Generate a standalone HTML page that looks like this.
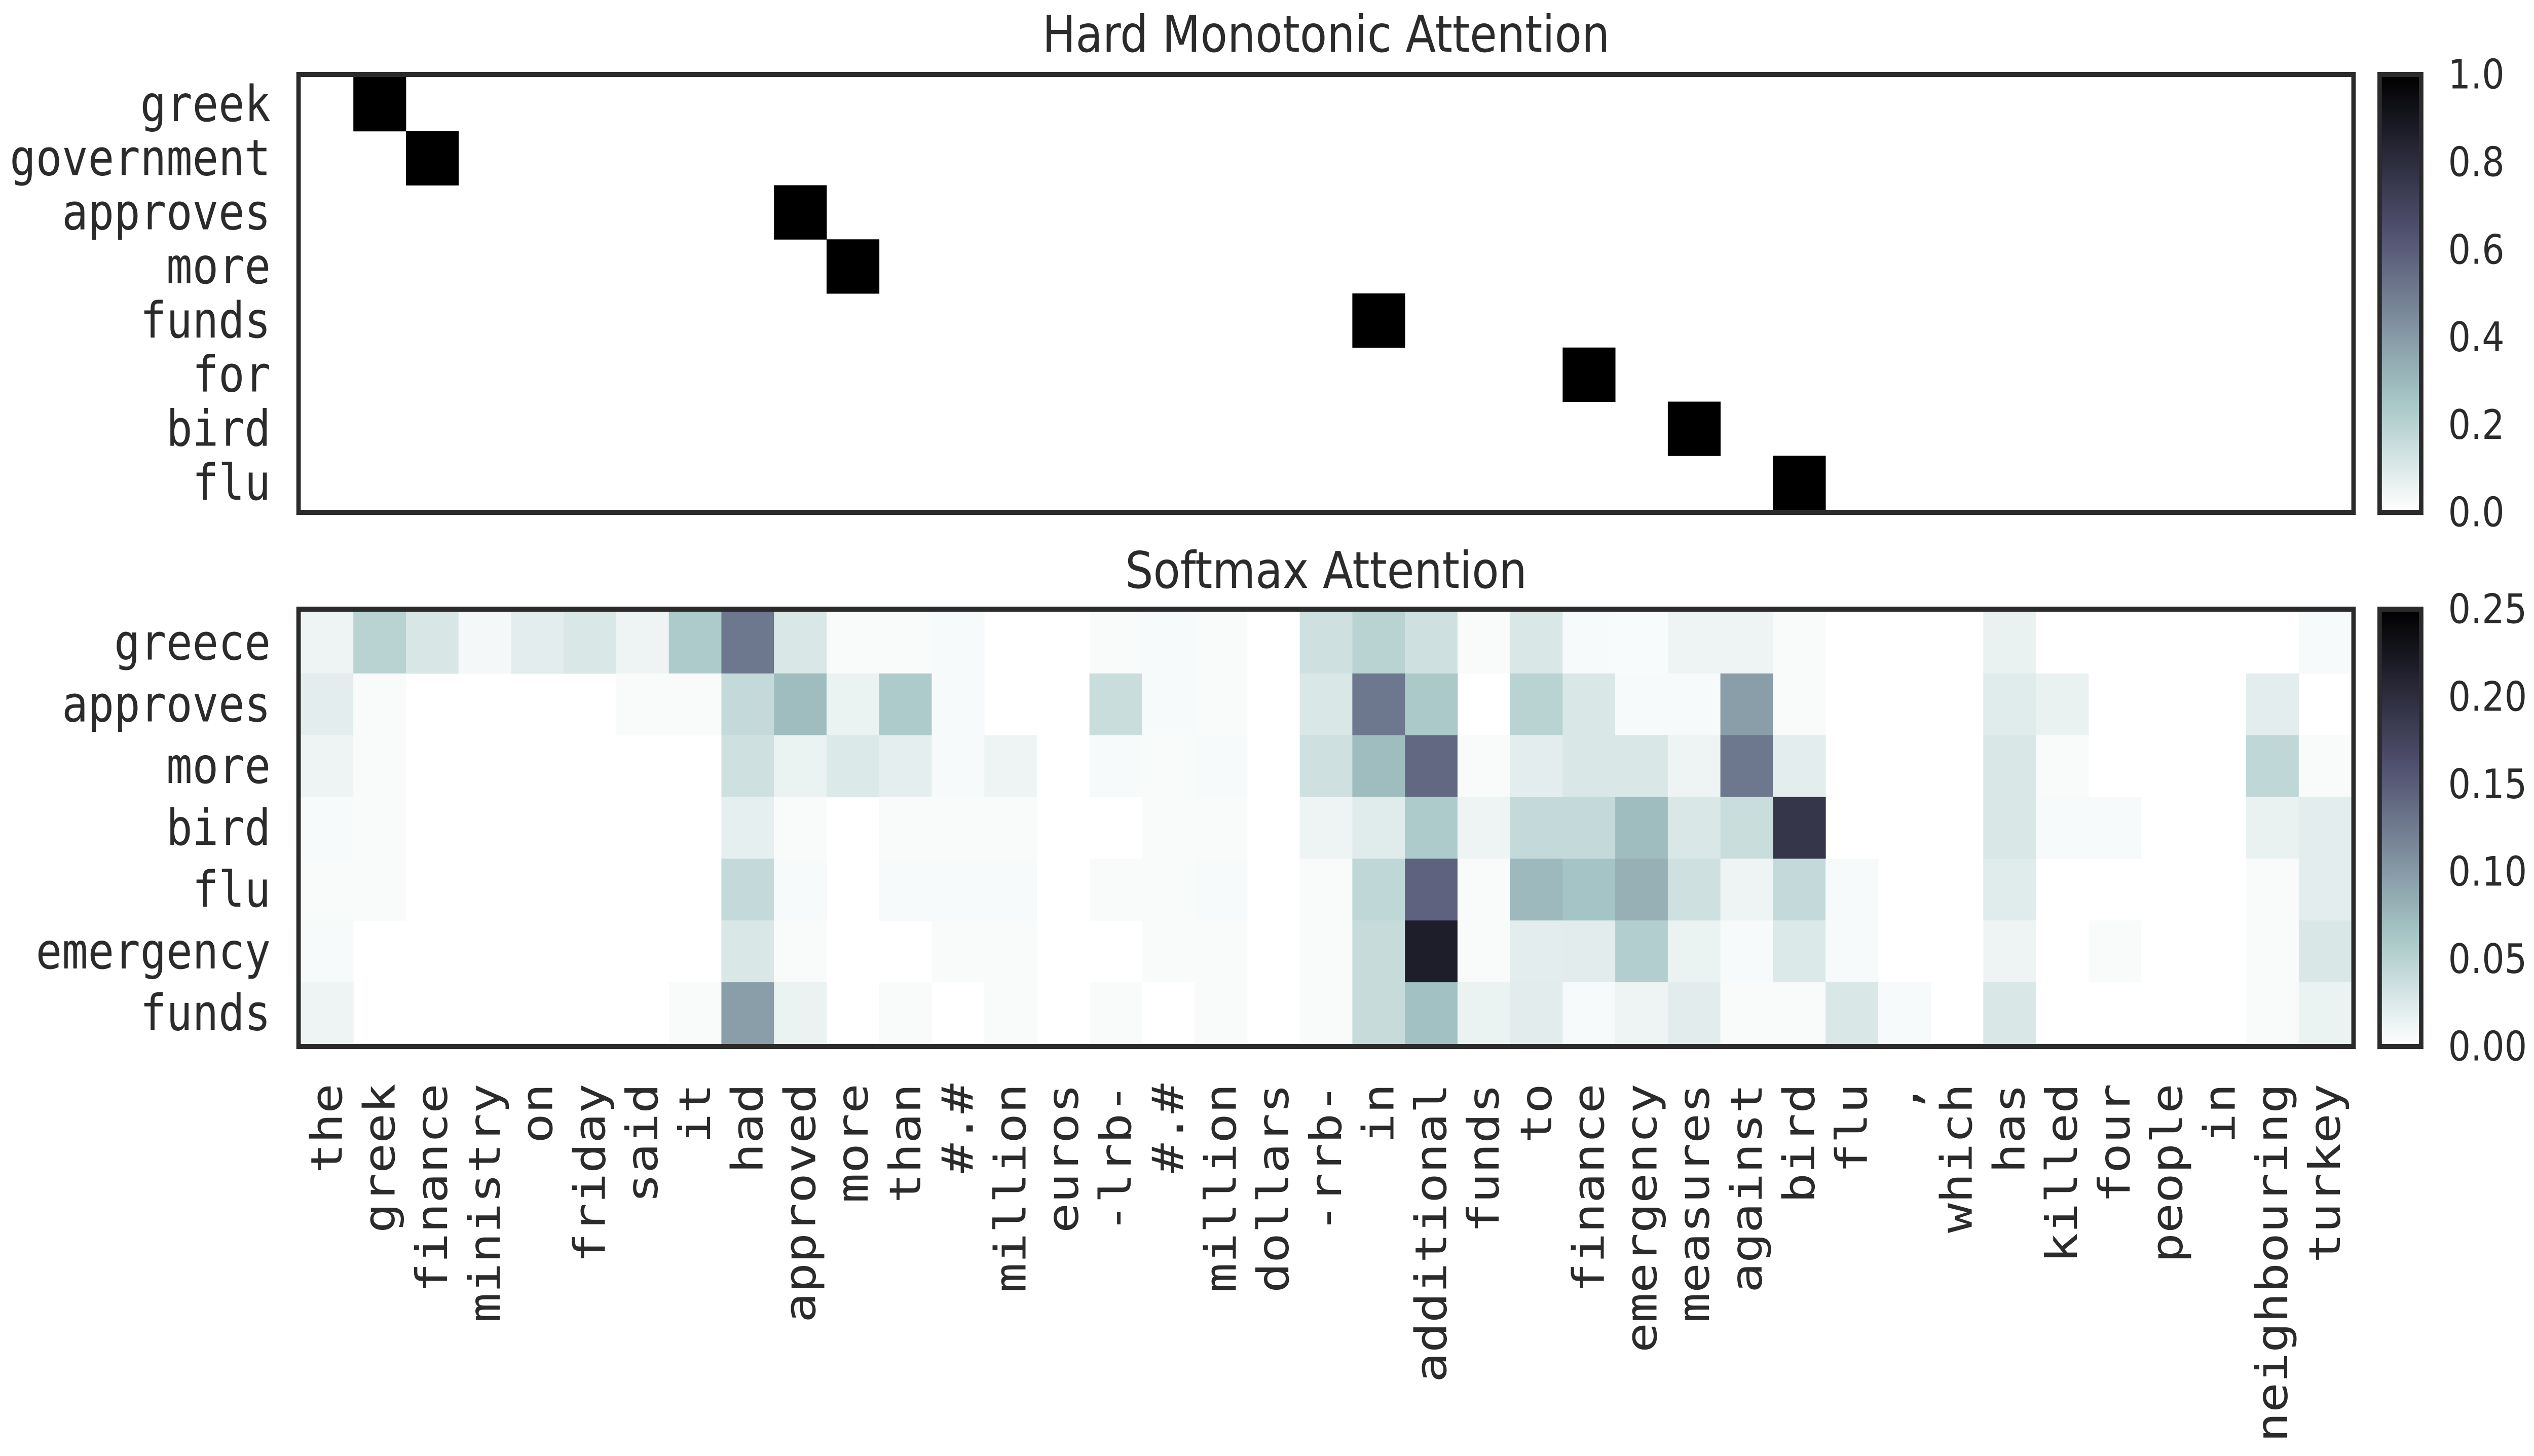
<!DOCTYPE html>
<html><head><meta charset="utf-8">
<style>
html,body{margin:0;padding:0;background:#fff;width:100%;height:100%;overflow:hidden;}
svg{display:block;width:100vw;height:100vh;}
text{fill:#2b2b2b;}
</style></head>
<body>
<svg id="chart" viewBox="0 0 5729 2873" preserveAspectRatio="none" xmlns="http://www.w3.org/2000/svg">
<defs>
<linearGradient id="boneGrad" x1="0" y1="1" x2="0" y2="0"></linearGradient>
</defs>
</svg>
<script>
const srcTokens = ["the","greek","finance","ministry","on","friday","said","it","had","approved","more","than","#.#","million","euros","-lrb-","#.#","million","dollars","-rrb-","in","additional","funds","to","finance","emergency","measures","against","bird","flu",",","which","has","killed","four","people","in","neighbouring","turkey"];
const hardRows = ["greek","government","approves","more","funds","for","bird","flu"];
const hardAlign = [1,2,9,10,20,24,26,28];
const softRows = ["greece","approves","more","bird","flu","emergency","funds"];
const softVals0 = [0.012,0.05,0.028,0.008,0.02,0.027,0.012,0.058,0.128,0.027,0.004,0.004,0.006,0,0,0.004,0.006,0.004,0,0.035,0.05,0.035,0.004,0.027,0.006,0.005,0.012,0.012,0.004,0,0,0,0.016,0,0,0,0,0,0.006];
const softVals1 = [0.02,0.004,0,0,0,0,0.004,0.004,0.042,0.072,0.015,0.058,0.006,0,0,0.038,0.006,0.004,0,0.027,0.128,0.06,0,0.05,0.027,0.006,0.006,0.096,0.004,0,0,0,0.022,0.016,0,0,0,0.02,0];
const softVals2 = [0.012,0.004,0,0,0,0,0,0,0.035,0.015,0.025,0.019,0.006,0.012,0,0.006,0.004,0.006,0,0.035,0.072,0.14,0.004,0.02,0.027,0.027,0.012,0.128,0.02,0,0,0,0.027,0.004,0,0,0,0.045,0.004];
const softVals3 = [0.006,0.004,0,0,0,0,0,0,0.018,0.004,0,0.004,0.004,0.004,0,0,0.004,0.004,0,0.012,0.022,0.058,0.012,0.042,0.042,0.072,0.027,0.038,0.19,0,0,0,0.027,0.006,0.006,0,0,0.016,0.02];
const softVals4 = [0.004,0.004,0,0,0,0,0,0,0.042,0.006,0,0.006,0.006,0.006,0,0.004,0.004,0.006,0,0.004,0.045,0.145,0.004,0.074,0.065,0.082,0.035,0.012,0.042,0.006,0,0,0.022,0,0,0,0,0.004,0.02];
const softVals5 = [0.006,0,0,0,0,0,0,0,0.027,0.004,0,0,0.004,0.004,0,0,0.004,0.004,0,0.004,0.04,0.216,0.004,0.02,0.021,0.055,0.015,0.006,0.025,0.006,0,0,0.012,0,0.004,0,0,0.004,0.027];
const softVals6 = [0.012,0,0,0,0,0,0,0.004,0.096,0.015,0,0.004,0,0.004,0,0.004,0,0.004,0,0.004,0.04,0.068,0.015,0.021,0.006,0.012,0.021,0.004,0.004,0.027,0.006,0,0.027,0,0,0,0,0.004,0.015];
const softVals = [softVals0,softVals1,softVals2,softVals3,softVals4,softVals5,softVals6];
const hardTicks = ["0.0","0.2","0.4","0.6","0.8","1.0"];
const softTicks = ["0.00","0.05","0.10","0.15","0.20","0.25"];

const NS = "http://www.w3.org/2000/svg";
const svg = document.getElementById('chart');
function mk(tag, attrs, parent){const e=document.createElementNS(NS,tag);for(const k in attrs)e.setAttribute(k,attrs[k]);(parent||svg).appendChild(e);return e;}

function interp(segs,t){for(let i=1;i<segs.length;i++){if(t<=segs[i][0]){const a=segs[i-1],b=segs[i];return a[1]+(b[1]-a[1])*(t-a[0])/(b[0]-a[0]);}}return 1;}
const R=[[0,0],[0.746032,0.652778],[1,1]],G=[[0,0],[0.365079,0.319444],[0.746032,0.777778],[1,1]],B=[[0,0],[0.365079,0.444444],[1,1]];
function boneR(v){const t=1-Math.max(0,Math.min(1,v));return `rgb(${Math.round(interp(R,t)*255)},${Math.round(interp(G,t)*255)},${Math.round(interp(B,t)*255)})`;}
const grad=document.getElementById('boneGrad');
for(let i=0;i<=20;i++){const v=i/20;mk('stop',{offset:v,'stop-color':boneR(v)},grad);}

const X0=680, X1=5316, nC=srcTokens.length, cw=(X1-X0)/nC;
const xAt = i => X0 + i*cw;
const FONT = '"DejaVu Sans Mono","Liberation Mono",monospace';
const SANS = '"DejaVu Sans","Liberation Sans",sans-serif';

function panel(name, y0, y1, rows, title, titleY, drawCells){
  const rh=(y1-y0)/rows.length;
  const g=mk('g',{});  
  drawCells(g, rh);
  mk('rect',{x:X0-5,y:y0-5,width:X1-X0+10,height:y1-y0+10,fill:'none',stroke:'#2b2b2b','stroke-width':10},g);
  rows.forEach((r,i)=>{const t=mk('text',{x:612,y:y0+(i+0.5)*rh,'font-family':FONT,'font-size':98,'text-anchor':'end','dominant-baseline':'central'},g);t.textContent=r;
    });
  const tt=mk('text',{x:(X0+X1)/2,y:titleY,'font-family':SANS,'font-size':100,'text-anchor':'middle'},g);
  tt.textContent=title;  
}

panel('hard',152,1006,hardRows,'Hard Monotonic Attention',102,(g,rh)=>{
  hardAlign.forEach((c,r)=>{const e=mk('rect',{x:xAt(c),y:152+r*rh,width:cw+0.5,height:rh+0.5,fill:boneR(1)},g);
    });
});
panel('softmax',1207,2060,softRows,'Softmax Attention',1160,(g,rh)=>{
  softVals.forEach((row,r)=>row.forEach((v,c)=>{if(v<=0)return;
    const e=mk('rect',{x:xAt(c),y:1207+r*rh,width:cw+0.6,height:rh+0.6,fill:boneR(v/0.25)},g);
    }));
});

srcTokens.forEach((w,i)=>{const cx=xAt(i+0.5);
  const t=mk('text',{x:cx,y:2138,'font-family':FONT,'font-size':98,'text-anchor':'end','dominant-baseline':'central',transform:`rotate(-90 ${cx} 2138)`});
  t.textContent=w;  });

function cbar(name,y0,y1,ticks){
  const g=mk('g',{});  
  mk('rect',{x:5380,y:y0,width:94,height:y1-y0,fill:'url(#boneGrad)'},g);
  mk('rect',{x:5380,y:y0,width:94,height:y1-y0,fill:'none',stroke:'#2b2b2b','stroke-width':10},g);
  ticks.forEach((tk,i)=>{const y=y1-(y1-y0)*i/(ticks.length-1);
    const t=mk('text',{x:5535,y:y,'font-family':SANS,'font-size':80,'dominant-baseline':'central'},g);
    t.textContent=tk;  });
}
cbar('hard',147,1011,hardTicks);
cbar('softmax',1202,2065,softTicks);
</script>
</body></html>
